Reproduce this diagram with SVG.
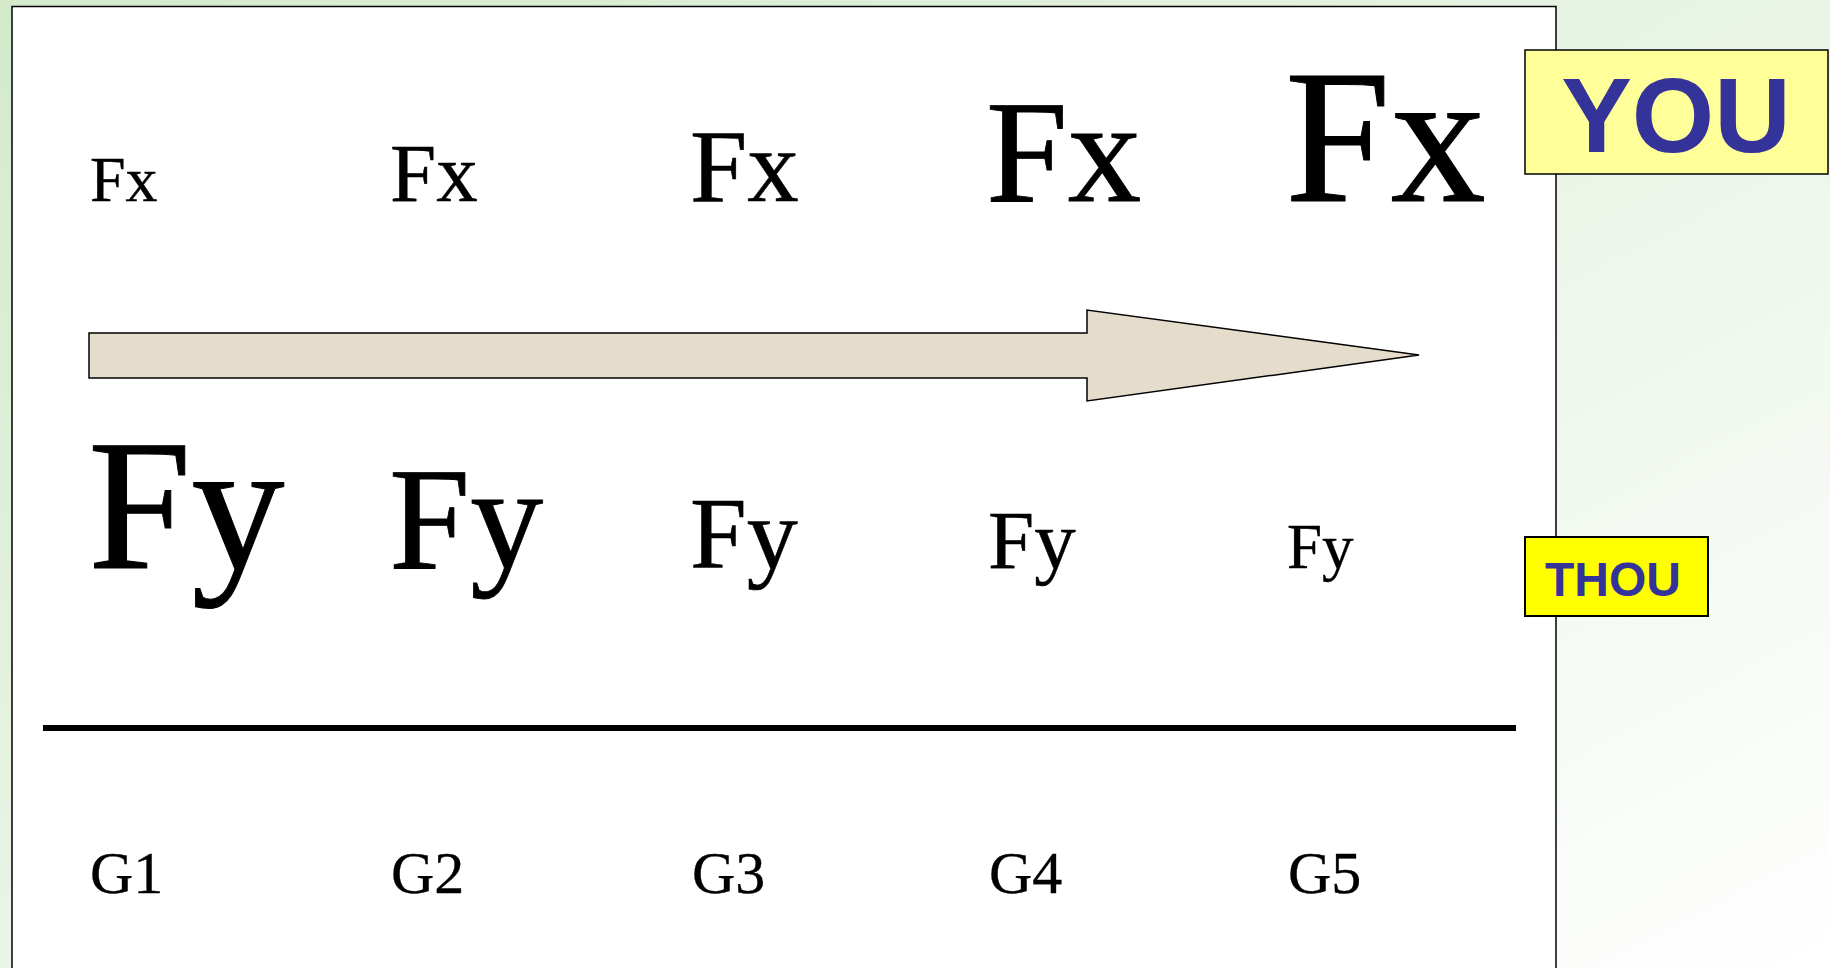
<svg xmlns="http://www.w3.org/2000/svg" width="1830" height="968" viewBox="0 0 1830 968">
<defs>
<linearGradient id="bg" x1="0" y1="0" x2="1" y2="1">
<stop offset="0" stop-color="#d3eacb"/>
<stop offset="0.6" stop-color="#eef7ec"/>
<stop offset="1" stop-color="#ffffff"/>
</linearGradient>
<style>
.t{font-family:"Liberation Serif","Times New Roman",serif;fill:#000;stroke:#000}
.lab{font-family:"Liberation Sans",Arial,sans-serif;font-weight:bold;fill:#333399;text-anchor:middle}
</style>
</defs>
<rect x="0" y="0" width="1830" height="968" fill="url(#bg)"/>
<g id="panel">
<rect x="12" y="6.5" width="1544" height="970" fill="#ffffff" stroke="#000" stroke-width="1.5"/>
</g>
<g id="fx-row">
<text class="t" x="90" y="201" font-size="64" stroke-width="0.35">Fx</text>
<text class="t" x="390" y="201" font-size="83" stroke-width="0.45">Fx</text>
<text class="t" x="690" y="201" font-size="103" stroke-width="0.55">Fx</text>
<text class="t" x="986" y="201" font-size="147" stroke-width="0.8">Fx</text>
<text class="t" x="1285" y="201" font-size="190" stroke-width="1">Fx</text>
</g>
<g id="arrow">
<polygon points="89,333 1087,333 1087,310 1419,355 1087,401 1087,378 89,378" fill="#e6dccc" stroke="#000" stroke-width="1.5"/>
</g>
<g id="fy-row">
<text class="t" x="88" y="568" font-size="186" stroke-width="1">Fy</text>
<text class="t" x="389" y="568" font-size="146" stroke-width="0.8">Fy</text>
<text class="t" x="690" y="568" font-size="102" stroke-width="0.55">Fy</text>
<text class="t" x="988" y="568" font-size="83" stroke-width="0.45">Fy</text>
<text class="t" x="1287" y="568" font-size="63" stroke-width="0.35">Fy</text>
</g>
<g id="connectors">
<line x1="43" y1="728" x2="1516" y2="728" stroke="#000" stroke-width="6"/>
</g>
<g id="g-row">
<text class="t" x="90" y="893" font-size="60" stroke-width="0.35">G1</text>
<text class="t" x="391" y="893" font-size="60" stroke-width="0.35">G2</text>
<text class="t" x="692" y="893" font-size="60" stroke-width="0.35">G3</text>
<text class="t" x="989" y="893" font-size="60" stroke-width="0.35">G4</text>
<text class="t" x="1288" y="893" font-size="60" stroke-width="0.35">G5</text>
</g>
<g id="you">
<rect x="1525" y="50" width="303" height="124" fill="#ffff99" stroke="#000" stroke-width="1.5"/>
<text class="lab" x="1676" y="152" font-size="106">YOU</text>
</g>
<g id="thou">
<rect x="1525" y="537" width="183" height="79" fill="#ffff00" stroke="#000" stroke-width="2"/>
<text class="lab" x="1613" y="596" font-size="48">THOU</text>
</g>
</svg>
